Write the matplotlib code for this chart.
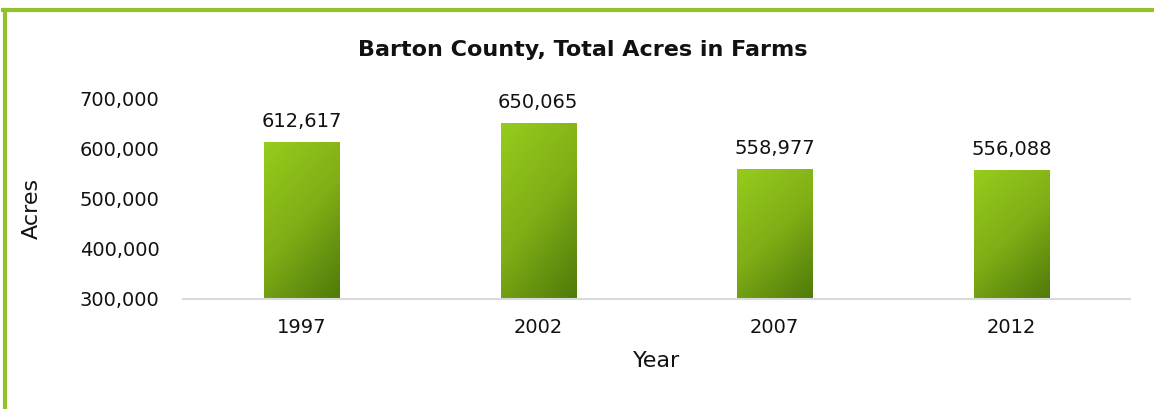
import numpy as np
import matplotlib
matplotlib.use("Agg")
import matplotlib.pyplot as plt
from matplotlib.colors import LinearSegmentedColormap
from matplotlib.lines import Line2D

# Datos
years = ["1997", "2002", "2007", "2012"]
acres = [612617, 650065, 558977, 556088]

plt.rcParams['font.family'] = ['DejaVu Sans']

fig = plt.figure(figsize=(11.54, 4.09), dpi=100)
ax = fig.add_axes([0.1586, 0.269, 0.8204, 0.491])

x = np.arange(len(years))
bars = ax.bar(x, acres, width=0.317, color='none', zorder=2)

# Gradiente diagonal en cada barra (claro arriba-izq, oscuro abajo-der)
cmap = LinearSegmentedColormap.from_list('verde', ['#96cc1c', '#7fae16', '#4f7a0a'])
gx, gy = np.meshgrid(np.linspace(0, 1, 60), np.linspace(0, 1, 200))
grad = 0.35 * gx + 0.65 * gy
for b in bars:
    x0, w, h = b.get_x(), b.get_width(), b.get_height()
    im = ax.imshow(grad, cmap=cmap, extent=[x0, x0 + w, 300000, h], origin='upper',
                   aspect='auto', zorder=2, vmin=0, vmax=1)
    im.set_clip_path(b)

for xi, v in zip(x, acres):
    ax.annotate(f"{v:,}", (xi, v), xytext=(0, 8), textcoords='offset points',
                ha='center', va='bottom', fontsize=14, color='#111111')

ax.set_xlim(-0.5, 3.5)
ax.set_ylim(300000, 700000)
ax.set_yticks(np.arange(300000, 700001, 100000))
ax.yaxis.set_major_formatter(matplotlib.ticker.FuncFormatter(lambda v, p: f"{int(v):,}"))
ax.set_xticks(x)
ax.set_xticklabels(years)
ax.tick_params(length=0, labelsize=14, colors='#111111')
ax.tick_params(axis='y', pad=17)
ax.tick_params(axis='x', pad=14)

for s in ['top', 'right', 'left']:
    ax.spines[s].set_visible(False)
ax.spines['bottom'].set_color('#d9d9d9')
ax.spines['bottom'].set_linewidth(1.5)

ax.set_xlabel('Year', fontsize=16, labelpad=10, color='#111111')
fig.text(0.028, 0.49, 'Acres', rotation=90, fontsize=16, ha='center', va='center', color='#111111')
fig.text(0.505, 0.878, 'Barton County, Total Acres in Farms', fontsize=16, fontweight='bold',
         ha='center', va='center', color='#111111')

# Borde verde
fig.add_artist(Line2D([0.0043, 0.0043], [0, 0.976], transform=fig.transFigure, color='#92c12a', lw=3))
fig.add_artist(Line2D([0.003, 1], [0.976, 0.976], transform=fig.transFigure, color='#92c12a', lw=3))

fig.savefig('out.png', dpi=100)
